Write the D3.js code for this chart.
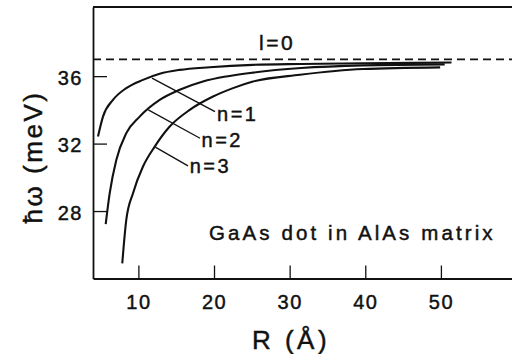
<!DOCTYPE html>
<html>
<head>
<meta charset="utf-8">
<script src="https://cdn.jsdelivr.net/npm/d3@7"></script>
<style>
    html, body { margin: 0; padding: 0; background: #fff; }
    svg { display: block; }
    text { font-family: "Liberation Sans", Arial, Helvetica, sans-serif; fill: #111; stroke: #111; stroke-width: 0.45px; }
</style>
</head>
<body>
<svg id="chart" width="512" height="354"></svg>
<script>
// R (Angstrom) / energy (meV)
const n1R = [4.66, 5.32, 6.64, 8.40, 10.61, 12.82, 15.46, 19.43, 25.16, 31.5, 39.7, 51.4];
const n1E = [32.42, 33.60, 34.59, 35.29, 35.78, 36.14, 36.37, 36.53, 36.67, 36.72, 36.76, 36.81];
const n2R = [5.68, 6.21, 7.08, 8.40, 10.17, 12.82, 15.46, 18.54, 21.63, 25.16, 31.5, 39.7, 50.5];
const n2E = [27.23, 29.06, 31.03, 32.62, 33.60, 34.59, 35.19, 35.68, 35.98, 36.21, 36.48, 36.64, 36.70];
const n3R = [7.87, 8.40, 9.29, 10.61, 12.16, 14.14, 16.79, 19.87, 22.51, 25.16, 31.37, 39.7, 49.9];
const n3E = [24.90, 27.47, 29.06, 30.64, 31.82, 33.01, 34.00, 34.79, 35.29, 35.68, 36.08, 36.42, 36.52];
const limitE = 37.0;   // l=0 asymptote

const xTicks = [10, 20, 30, 40, 50];
const yTicks = [28, 32, 36];

// label leaders: [curve point R, E, label end R, E, text R, E, text]
const leaders = [
    [11.80, 35.88, 20.13, 33.90, 20.4, 33.35, "n=1"],
    [11.31, 34.00, 18.15, 32.32, 18.35, 31.80, "n=2"],
    [12.24, 31.79, 16.56, 30.68, 16.79, 30.26, "n=3"]
];

const svg = d3.select("#chart");
const x = d3.scaleLinear().domain([4, 59.4]).range([93, 512]);
const y = d3.scaleLinear().domain([24, 40.1]).range([278.5, 7]);

// axes (inward ticks)
const xAxis = svg.append("g")
    .attr("transform", `translate(0,${y(24)})`)
    .call(d3.axisBottom(x).tickValues(xTicks).tickSizeInner(-13).tickSizeOuter(0).tickPadding(16));
const yAxis = svg.append("g")
    .attr("transform", `translate(${x(4)},0)`)
    .call(d3.axisLeft(y).tickValues(yTicks).tickSizeInner(-14).tickSizeOuter(0).tickPadding(10));

[xAxis, yAxis].forEach(g => {
    g.select(".domain").attr("stroke", "#111").attr("stroke-width", 1.8);
    g.selectAll(".tick line").attr("stroke", "#111").attr("stroke-width", 1.3);
    g.selectAll(".tick text")
        .attr("fill", "#111")
        .style("font-size", "20px")
        .style("letter-spacing", "1.5px")
        .attr("font-family", null);
});
yAxis.selectAll(".tick text").attr("dy", "0.4em");
xAxis.selectAll(".tick text").attr("dx", "0px");

// top frame
svg.append("line")
    .attr("x1", x(4)).attr("x2", x(59.4))
    .attr("y1", y(40.1)).attr("y2", y(40.1))
    .attr("stroke", "#111").attr("stroke-width", 1.8);

// dashed limit
svg.append("line")
    .attr("x1", x(4)).attr("x2", x(59.4))
    .attr("y1", y(limitE)).attr("y2", y(limitE))
    .attr("stroke", "#111").attr("stroke-width", 1.8)
    .attr("stroke-dasharray", "8,5");

const line = d3.line()
    .x(d => x(d[0]))
    .y(d => y(d[1]))
    .curve(d3.curveMonotoneX);

[[n1R, n1E], [n2R, n2E], [n3R, n3E]].forEach(([rs, es]) => {
    svg.append("path")
        .datum(rs.map((r, i) => [r, es[i]]))
        .attr("d", line)
        .attr("fill", "none")
        .attr("stroke", "#111")
        .attr("stroke-width", 2.1);
});

leaders.forEach(([r0, e0, r1, e1, rt, et, label]) => {
    svg.append("line")
        .attr("x1", x(r0)).attr("y1", y(e0))
        .attr("x2", x(r1)).attr("y2", y(e1))
        .attr("stroke", "#111").attr("stroke-width", 1.3);
    svg.append("text")
        .attr("x", x(rt)).attr("y", y(et))
        .style("font-size", "20px")
        .style("letter-spacing", "2.5px")
        .text(label);
});

svg.append("text")
    .attr("x", x(25.95)).attr("y", y(37.56))
    .style("font-size", "21px")
    .style("letter-spacing", "2.5px")
    .text("l=0");

svg.append("text")
    .attr("x", x(19.34)).attr("y", y(26.28))
    .style("font-size", "20.5px")
    .style("letter-spacing", "3.1px")
    .text("GaAs dot in AlAs matrix");

// axis titles
svg.append("text")
    .attr("x", 291).attr("y", 349)
    .attr("text-anchor", "middle")
    .style("font-size", "26px")
    .style("letter-spacing", "3.5px")
    .text("R (Å)");

svg.append("text")
    .attr("transform", "translate(42,157) rotate(-90)")
    .attr("text-anchor", "middle")
    .style("font-size", "26px")
    .style("letter-spacing", "2.5px")
    .text("ħω (meV)");
</script>
</body>
</html>
